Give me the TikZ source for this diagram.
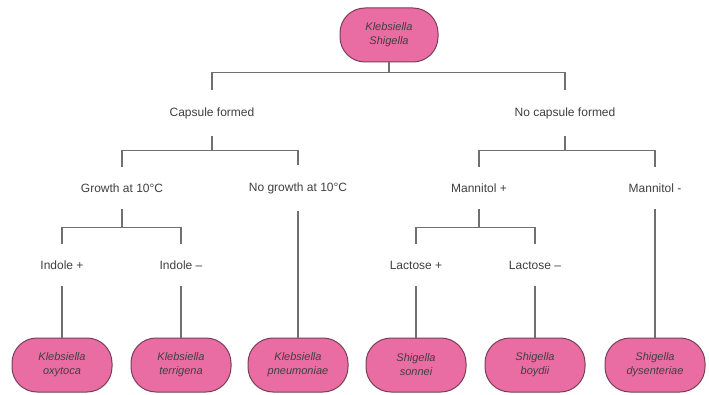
\documentclass[tikz,border=0pt]{standalone}
\usepackage{fontspec}
\setmainfont{Liberation Sans}
\usetikzlibrary{positioning}

\definecolor{pillfill}{RGB}{233,108,162}
\definecolor{pilldraw}{RGB}{120,64,86}
\definecolor{linkgray}{RGB}{112,112,112}

\begin{document}
\begin{tikzpicture}[
    x=1pt, y=-1pt,
    every node/.style={font=\fontsize{12}{14}\selectfont, text=black!75},
    organism/.style={
        draw=pilldraw,
        fill=pillfill,
        rounded corners=25pt,
        line width=1pt,
        align=center,
        minimum width=100pt,
        minimum height=54pt,
        font=\fontsize{11}{14}\selectfont\itshape,
        text=black!75
    },
    test/.style={inner sep=3pt, outer sep=14pt},
    link/.style={draw=linkgray, line width=1.2pt}
]

\fill[white] (0,0) rectangle (709,395);
\useasboundingbox (0,0) rectangle (709,395);

% ---------- Root ----------
\node[organism, minimum width=98pt] (root) at (389,35) {Klebsiella\\Shigella};

% ---------- Tests ----------
\node[test] (capsule) at (212,113) {Capsule formed};
\node[test] (nocapsule) at (565,113) {No capsule formed};

\node[test] (growth) at (122,188) {Growth at 10\textdegree C};
\node[test] (nogrowth) at (298,188) {No growth at 10\textdegree C};
\node[test] (mannpos) at (479,188) {Mannitol +};
\node[test] (mannneg) at (655,188) {Mannitol -};

\node[test] (indpos) at (62,265) {Indole +};
\node[test] (indneg) at (181,265) {Indole --};
\node[test] (lacpos) at (416,265) {Lactose +};
\node[test] (lacneg) at (535,265) {Lactose --};

% ---------- Organisms ----------
\node[organism] (oxytoca) at (62,365) {Klebsiella\\oxytoca};
\node[organism] (terrigena) at (181,365) {Klebsiella\\terrigena};
\node[organism] (pneumoniae) at (298,365) {Klebsiella\\pneumoniae};
\node[organism] (sonnei) at (416,365) {Shigella\\sonnei};
\node[organism] (boydii) at (535,365) {Shigella\\boydii};
\node[organism] (dysenteriae) at (655,365) {Shigella\\dysenteriae};

% ---------- Brackets ----------
\draw[link] (root.south) -- ++(0,10) coordinate (j0);
\draw[link] (capsule.north) |- (j0) -| (nocapsule.north);

\draw[link] (capsule.south) -- ++(0,15) coordinate (j1);
\draw[link] (growth.north) |- (j1) -| (nogrowth.north);

\draw[link] (nocapsule.south) -- ++(0,15) coordinate (j2);
\draw[link] (mannpos.north) |- (j2) -| (mannneg.north);

\draw[link] (growth.south) -- ++(0,18) coordinate (j3);
\draw[link] (indpos.north) |- (j3) -| (indneg.north);

\draw[link] (mannpos.south) -- ++(0,18) coordinate (j4);
\draw[link] (lacpos.north) |- (j4) -| (lacneg.north);

% ---------- Leaves ----------
\draw[link] (indpos.south) -- (oxytoca.north);
\draw[link] (indneg.south) -- (terrigena.north);
\draw[link] (nogrowth.south) -- (pneumoniae.north);
\draw[link] (lacpos.south) -- (sonnei.north);
\draw[link] (lacneg.south) -- (boydii.north);
\draw[link] (mannneg.south) -- (dysenteriae.north);

\end{tikzpicture}
\end{document}
